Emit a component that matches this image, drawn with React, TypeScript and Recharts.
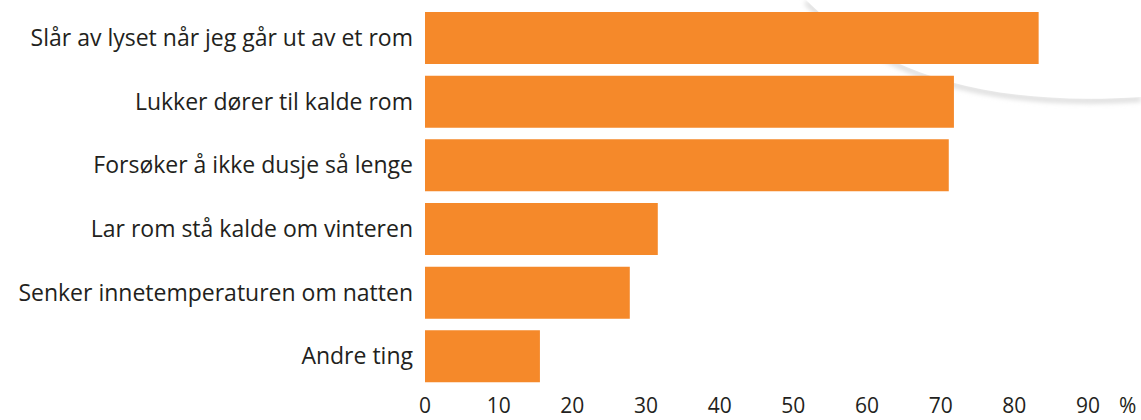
import { BarChart, Bar, XAxis, YAxis, Label } from 'recharts'

const categories = [
  'Slår av lyset når jeg går ut av et rom',
  'Lukker dører til kalde rom',
  'Forsøker å ikke dusje så lenge',
  'Lar rom stå kalde om vinteren',
  'Senker innetemperaturen om natten',
  'Andre ting',
]
const shares = [83.3, 71.8, 71.1, 31.6, 27.8, 15.6]
const xTicks = [0, 10, 20, 30, 40, 50, 60, 70, 80, 90]

const data = categories.map((name, i) => ({ name, value: shares[i] }))

const FONT = '"Open Sans", "Noto Sans", sans-serif'
const TEXT = '#231f20'
const ORANGE = '#f5892a'

export default function App() {
  return (
    <div style={{ position: 'absolute', left: 0, top: 0, width: 1141, height: 420, background: '#fff', fontFamily: FONT }}>
      {/* faint decorative arc behind the chart */}
      <svg width={1141} height={420} style={{ position: 'absolute', left: 0, top: 0 }}>
        <defs>
          <filter id="soft" x="-10%" y="-50%" width="120%" height="200%">
            <feGaussianBlur stdDeviation="2.5" />
          </filter>
        </defs>
        <path d="M 806 0 C 872 66, 972 108, 1141 97" fill="none" stroke="#d9d9d9" strokeWidth={5} filter="url(#soft)" transform="translate(0 2)" />
        <path d="M 806 0 C 872 66, 972 108, 1141 97 L 1141 0 Z" fill="#fff" />
      </svg>
      <div style={{ position: 'absolute', left: 0, top: 0 }}>
        <BarChart
          width={1141}
          height={420}
          data={data}
          layout="vertical"
          margin={{ top: 6, right: 53, left: 0, bottom: 0 }}
        >
          <XAxis
            type="number"
            domain={[0, 90]}
            ticks={xTicks}
            axisLine={false}
            tickLine={false}
            tickSize={0}
            tickMargin={10}
            height={32}
            interval={0}
            tick={{ fill: TEXT, fontSize: 21, fontFamily: FONT }}
          >
            <Label value="%" position="right" offset={31} dy={2} fill={TEXT} fontSize={21} fontFamily={FONT} />
          </XAxis>
          <YAxis
            type="category"
            dataKey="name"
            width={425}
            axisLine={false}
            tickLine={false}
            tickSize={0}
            tickMargin={12}
            interval={0}
            tick={{ fill: TEXT, fontSize: 23, fontFamily: FONT }}
          />
          <Bar dataKey="value" fill={ORANGE} barSize={52} isAnimationActive={false} />
        </BarChart>
      </div>
    </div>
  )
}
